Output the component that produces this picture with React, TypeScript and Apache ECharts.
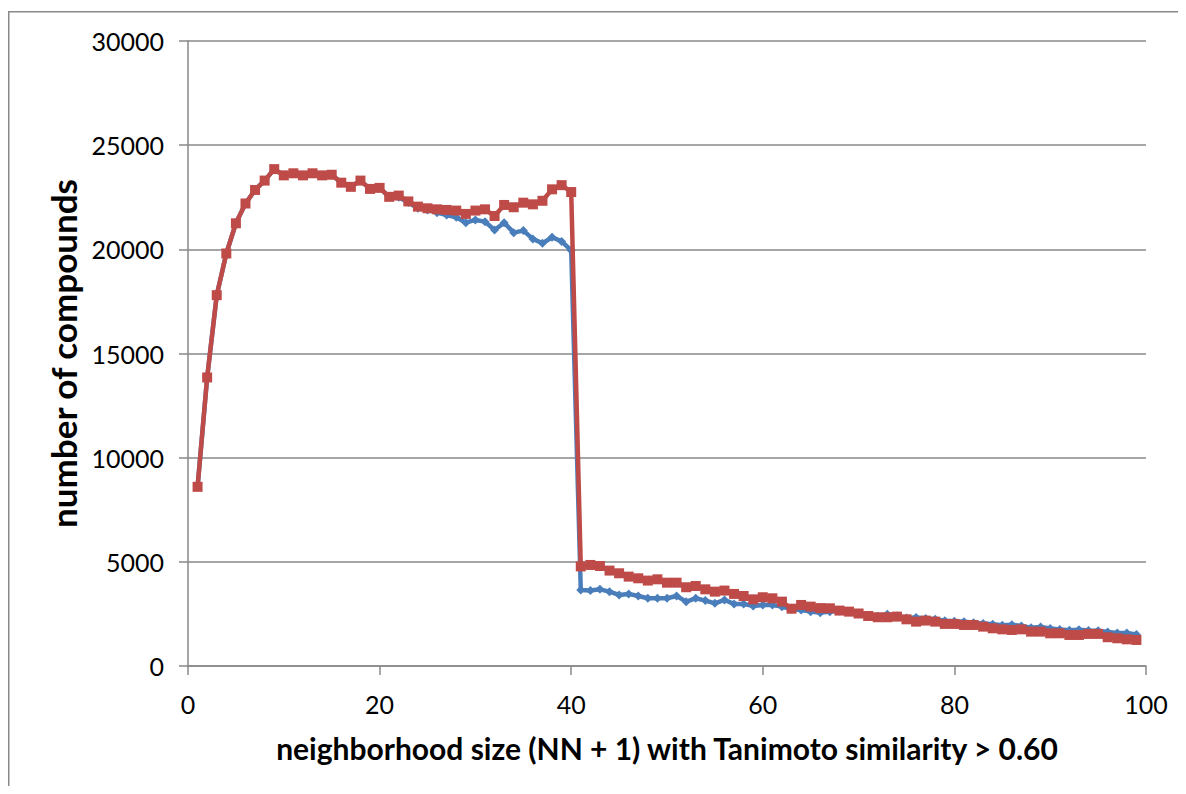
import React, { useEffect, useRef } from "react";
import * as echarts from "echarts";

const xValues = [
  1, 2, 3, 4, 5, 6, 7, 8, 9, 10, 11, 12, 13, 14, 15, 16, 17, 18, 19, 20,
  21, 22, 23, 24, 25, 26, 27, 28, 29, 30, 31, 32, 33, 34, 35, 36, 37, 38, 39, 40,
  41, 42, 43, 44, 45, 46, 47, 48, 49, 50, 51, 52, 53, 54, 55, 56, 57, 58, 59, 60,
  61, 62, 63, 64, 65, 66, 67, 68, 69, 70, 71, 72, 73, 74, 75, 76, 77, 78, 79, 80,
  81, 82, 83, 84, 85, 86, 87, 88, 89, 90, 91, 92, 93, 94, 95, 96, 97, 98, 99,
];

const blueValues = [
  8600, 13850, 17800, 19800, 21250, 22200, 22850, 23300, 23850, 23550,
  23650, 23550, 23650, 23550, 23580, 23200, 23000, 23300, 22900, 22950,
  22520, 22500, 22250, 21970, 21890, 21760, 21650, 21540, 21280, 21410,
  21330, 20930, 21280, 20800, 20900, 20500, 20290, 20580, 20380, 19950,
  3650, 3620, 3680, 3570, 3410, 3460, 3360, 3250, 3250, 3250,
  3360, 3090, 3250, 3140, 3010, 3170, 2980, 2980, 2880, 2930,
  2930, 2850, 2720, 2690, 2610, 2560, 2610, 2640, 2600, 2530,
  2440, 2390, 2480, 2400, 2300, 2330, 2280, 2250, 2170, 2150,
  2120, 2080, 2040, 2000, 1960, 1980, 1920, 1840, 1870, 1800,
  1750, 1720, 1740, 1700, 1690, 1630, 1590, 1580, 1510,
];

const redValues = [
  8600, 13850, 17800, 19800, 21250, 22200, 22850, 23300, 23850, 23550,
  23650, 23550, 23650, 23550, 23580, 23200, 23000, 23300, 22900, 22950,
  22520, 22580, 22300, 22050, 21970, 21920, 21890, 21860, 21700, 21860,
  21920, 21600, 22130, 22020, 22240, 22160, 22330, 22880, 23080, 22750,
  4780, 4850, 4800, 4580, 4450, 4290, 4210, 4100, 4160, 4000,
  4000, 3780, 3840, 3680, 3570, 3620, 3460, 3360, 3200, 3300,
  3250, 3090, 2750, 2930, 2850, 2780, 2770, 2660, 2610, 2520,
  2400, 2340, 2340, 2370, 2240, 2130, 2180, 2130, 2020, 2020,
  1970, 1970, 1890, 1810, 1760, 1730, 1760, 1650, 1650, 1570,
  1570, 1490, 1490, 1540, 1540, 1380, 1330, 1280, 1250,
];

const xAxisTitle = "neighborhood size (NN + 1) with Tanimoto similarity > 0.60";
const yAxisTitle = "number of compounds";

export default function App() {
  const ref = useRef<HTMLDivElement>(null);
  useEffect(() => {
    if (!ref.current) return;
    const chart = echarts.init(ref.current, null, { renderer: "svg" });
    const font = "Lato, 'Open Sans', sans-serif";
    const gray = "#898989";
    chart.setOption({
      animation: false,
      backgroundColor: "#ffffff",
      textStyle: { fontFamily: font },
      graphic: [
        {
          type: "rect",
          shape: { x: 0.75, y: 3.75, width: 3000, height: 3000 },
          style: { fill: "none", stroke: gray, lineWidth: 1.5 },
          silent: true,
        },
      ],
      grid: { left: 180, right: 40, top: 33, bottom: 120 },
      xAxis: {
        type: "value",
        min: 0,
        max: 100,
        interval: 20,
        name: xAxisTitle,
        nameLocation: "middle",
        nameGap: 67,
        nameTextStyle: { fontFamily: font, fontSize: 30, fontWeight: "bold", color: "#000" },
        axisLine: { show: true, lineStyle: { color: gray, width: 1.5 } },
        axisTick: { show: true, length: 9, inside: false, lineStyle: { color: gray, width: 1.5 } },
        axisLabel: { fontFamily: font, fontSize: 25, color: "#000", margin: 25 },
        splitLine: { show: false },
      },
      yAxis: {
        type: "value",
        min: 0,
        max: 30000,
        interval: 5000,
        name: yAxisTitle,
        nameLocation: "middle",
        nameGap: 100,
        nameRotate: 90,
        nameTextStyle: { fontFamily: font, fontSize: 35, fontWeight: "bold", color: "#000" },
        axisLine: { show: true, lineStyle: { color: gray, width: 1.5 } },
        axisTick: { show: true, length: 9, inside: false, lineStyle: { color: gray, width: 1.5 } },
        axisLabel: {
          fontFamily: font,
          fontSize: 25,
          color: "#000",
          margin: 24,
          formatter: (v: number) => String(v),
        },
        splitLine: { show: true, lineStyle: { color: gray, width: 1.5 } },
      },
      series: [
        {
          type: "line",
          name: "blue",
          data: xValues.map((x, i) => [x, blueValues[i]]),
          symbol: "diamond",
          symbolSize: 9,
          showAllSymbol: true,
          lineStyle: { color: "#4a7ebb", width: 4.5 },
          itemStyle: { color: "#4a7ebb" },
          z: 2,
        },
        {
          type: "line",
          name: "red",
          data: xValues.map((x, i) => [x, redValues[i]]),
          symbol: "rect",
          symbolSize: 10,
          showAllSymbol: true,
          lineStyle: { color: "#be4b48", width: 4.5 },
          itemStyle: { color: "#be4b48" },
          z: 3,
        },
      ],
    });
    return () => chart.dispose();
  }, []);
  return <div ref={ref} style={{ width: 1178, height: 778 }} />;
}
